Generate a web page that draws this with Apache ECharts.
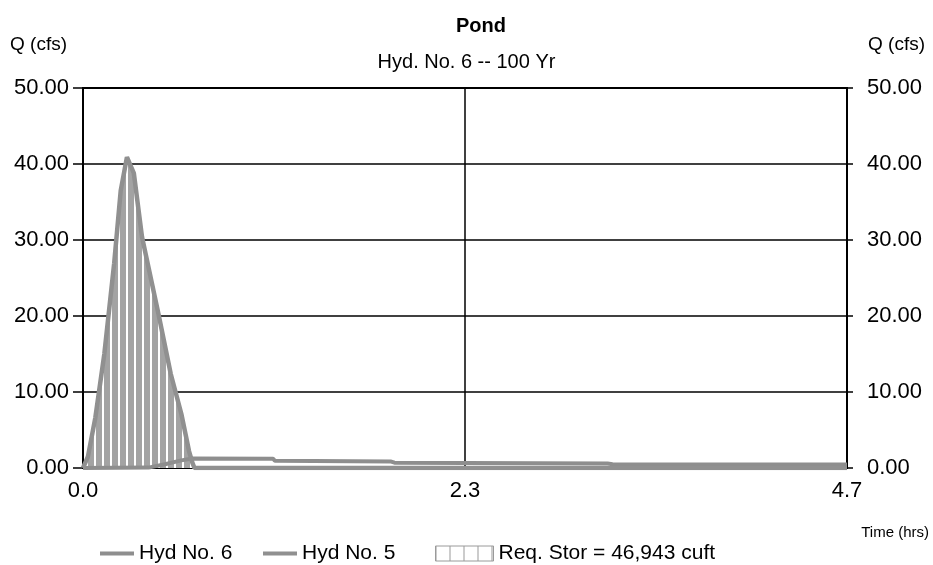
<!DOCTYPE html>
<html>
<head>
<meta charset="utf-8">
<script src="https://cdn.jsdelivr.net/npm/echarts@6/dist/echarts.min.js"></script>
<style>html,body{margin:0;padding:0;background:#fff;}#c{width:933px;height:565px;}</style>
</head>
<body>
<div id="c"></div>
<script>
// ---- data ----
const inflowT = [0, 0.03, 0.075, 0.13, 0.19, 0.23, 0.268, 0.31, 0.36, 0.46, 0.535, 0.60, 0.647, 0.667, 0.68, 4.66];
const inflowQ = [0, 1.5, 6.6, 15.0, 26.9, 36.5, 40.9, 38.8, 30.4, 20.3, 12.4, 7.1, 2.2, 0.7, 0, 0];
const outflowT = [0, 0.40, 0.50, 0.60, 0.667, 1.16, 1.17, 1.88, 1.90, 3.20, 3.23, 4.66];
const outflowQ = [0, 0.05, 0.5, 1.0, 1.25, 1.22, 0.95, 0.85, 0.7, 0.6, 0.5, 0.45];
const yTicks = [0, 10, 20, 30, 40, 50];
const xTicks = [0, 2.33, 4.66];
const seriesNames = ['Hyd No. 6', 'Hyd No. 5', 'Req. Stor = 46,943 cuft'];

const FONT = 'Liberation Sans, Arial, sans-serif';
const pairs = (t, q) => t.map((v, i) => [v, q[i]]);

// hatch pattern for the storage fill
function hatch(w, h, gray, gap) {
  const c = document.createElement('canvas');
  c.width = w; c.height = h;
  const g = c.getContext('2d');
  g.fillStyle = gray; g.fillRect(0, 0, w, h);
  g.fillStyle = '#ffffff'; g.fillRect(w - gap, 0, gap, h);
  return { image: c, repeat: 'repeat' };
}
function boxPattern() {
  const c = document.createElement('canvas');
  c.width = 14; c.height = 16;
  const g = c.getContext('2d');
  g.fillStyle = '#ffffff'; g.fillRect(0, 0, 14, 16);
  g.fillStyle = '#9a9a9a'; g.fillRect(0, 0, 1, 16);
  return { image: c, repeat: 'repeat' };
}

const chart = echarts.init(document.getElementById('c'));
const legendText = { fontFamily: FONT, fontSize: 21, color: '#000' };
chart.setOption({
  animation: false,
  backgroundColor: '#fff',
  title: [
    { text: 'Pond', left: 451, top: 11, textStyle: { fontFamily: FONT, fontSize: 20, fontWeight: 'bold', color: '#000' } },
    { text: 'Hyd. No. 6 -- 100 Yr', left: 'center', top: 47, textStyle: { fontFamily: FONT, fontSize: 20, fontWeight: 'normal', color: '#000' } }
  ],
  grid: { left: 83, right: 86, top: 88, bottom: 97, show: true, borderColor: '#000', borderWidth: 2 },
  xAxis: {
    type: 'value', min: 0, max: 4.66, interval: 2.33,
    axisLine: { show: true, lineStyle: { color: '#000', width: 2 } },
    axisTick: { show: false },
    splitLine: { show: true, lineStyle: { color: '#000', width: 1.5 } },
    axisLabel: { fontFamily: FONT, fontSize: 22, color: '#000', margin: 12, formatter: v => v.toFixed(1) }
  },
  yAxis: [0, 1].map(i => ({
    type: 'value', min: 0, max: 50, interval: 10, position: i ? 'right' : 'left',
    axisLine: { show: true, lineStyle: { color: '#000', width: 2 } },
    axisTick: { show: true, length: i ? 6 : 10, lineStyle: { color: '#000', width: 1.5 } },
    splitLine: { show: i === 0, lineStyle: { color: '#000', width: 1.5 } },
    axisLabel: { fontFamily: FONT, fontSize: 22, color: '#000', margin: i ? 20 : 14, formatter: v => v.toFixed(2) }
  })),
  legend: [
    { left: 95, top: 538, icon: 'rect', itemWidth: 34, itemHeight: 4, textStyle: legendText, data: [seriesNames[0]] },
    { left: 258, top: 538, icon: 'rect', itemWidth: 34, itemHeight: 4, textStyle: legendText, data: [seriesNames[1]] },
    { left: 430, top: 538, icon: 'rect', itemWidth: 58, itemHeight: 15, textStyle: legendText,
      data: [{ name: seriesNames[2], itemStyle: { color: boxPattern(), borderColor: '#9a9a9a', borderWidth: 1 } }] }
  ],
  graphic: [
    { type: 'text', left: 10, top: 35, style: { text: 'Q (cfs)', font: '19px ' + FONT, fill: '#000' } },
    { type: 'text', left: 868, top: 35, style: { text: 'Q (cfs)', font: '19px ' + FONT, fill: '#000' } },
    { type: 'text', right: 4, top: 525, style: { text: 'Time (hrs)', font: '15px ' + FONT, fill: '#000' } }
  ],
  series: [
    {
      name: seriesNames[2], type: 'line', data: pairs(inflowT, inflowQ), z: 1,
      symbol: 'none', lineStyle: { width: 0, opacity: 0 },
      itemStyle: { color: '#9a9a9a' },
      areaStyle: { color: hatch(8, 4, '#a3a3a3', 2), opacity: 1 }
    },
    {
      name: seriesNames[0], type: 'line', data: pairs(outflowT, outflowQ), z: 3,
      symbol: 'none', lineStyle: { width: 4, color: '#8e8e8e' }, itemStyle: { color: '#8e8e8e' }
    },
    {
      name: seriesNames[1], type: 'line', data: pairs(inflowT, inflowQ), z: 4,
      symbol: 'none', lineStyle: { width: 4.5, color: '#909090' }, itemStyle: { color: '#909090' }
    }
  ]
});
</script>
</body>
</html>
